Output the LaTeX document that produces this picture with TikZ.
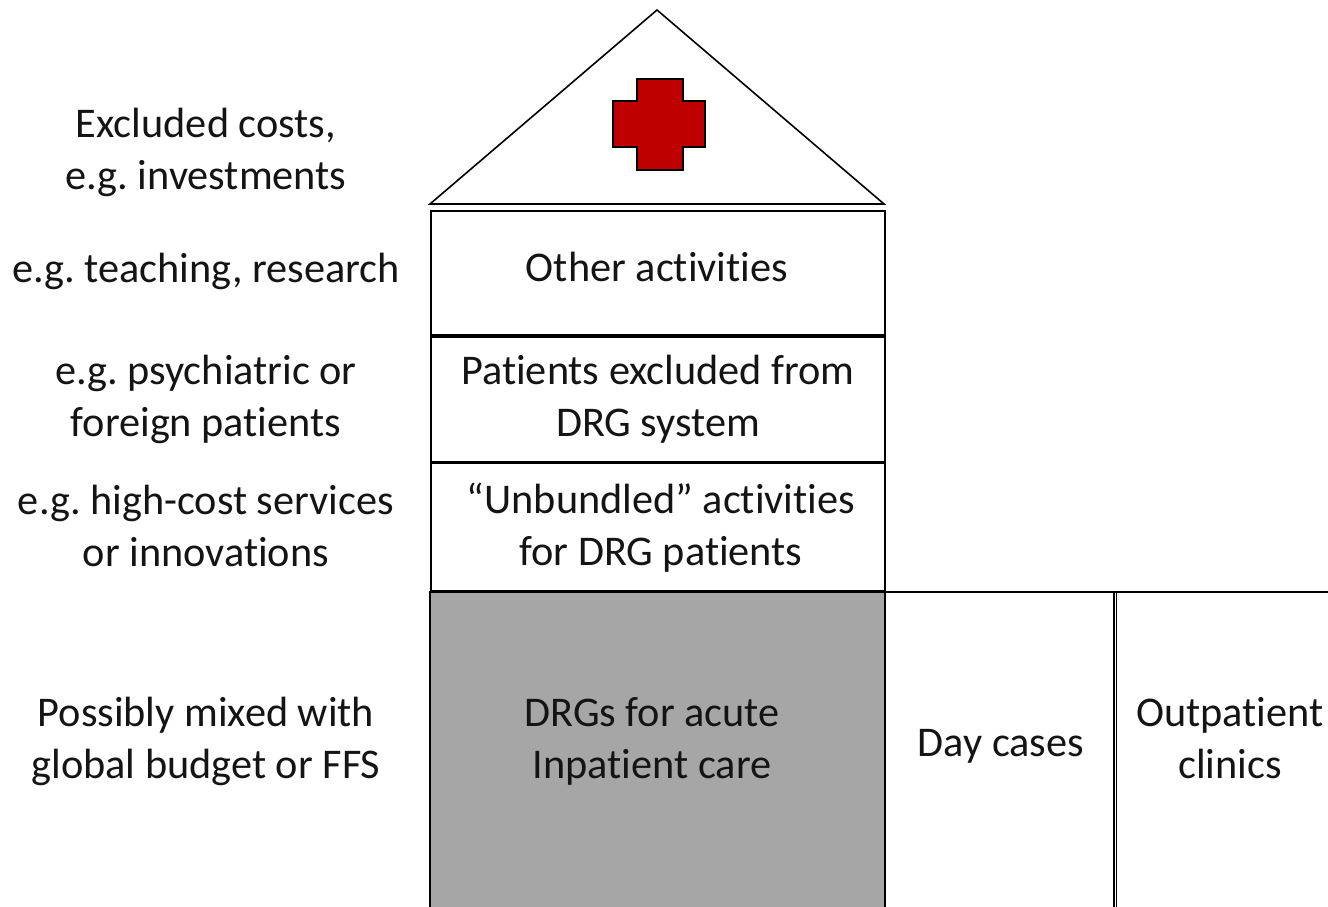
\documentclass[tikz,border=0pt]{standalone}
\usepackage{fontspec}
\setmainfont[Ligatures=NoCommon]{Carlito}
\definecolor{crossred}{HTML}{BF0000}
\definecolor{boxgray}{HTML}{A6A6A6}
\tikzset{
  every node/.style={font=\fontsize{42.3}{52}\selectfont\frenchspacing, align=center, inner sep=0pt, text=black!92},
  boxline/.style={draw=black, line width=1.6pt},
  roomnode/.style={boxline, minimum width=454pt, anchor=north west}
}
\begin{document}
\begin{tikzpicture}[x=1pt,y=-1pt]
\useasboundingbox (0,0) rectangle (1328,907);
\clip (0,0) rectangle (1328,907);
% roof
\coordinate (ridge) at (657,10);
\coordinate (eaveL) at (430,204);
\coordinate (eaveR) at (884,204);
\draw[boxline, line join=miter] (eaveL) -- (ridge) -- (eaveR) -- cycle;
% cross
\draw[line width=1.6pt, fill=crossred]
  (637,79) -- (683,79) -- (683,101) -- (705,101) -- (705,147) -- (683,147)
  -- (683,170) -- (637,170) -- (637,147) -- (613,147) -- (613,101) -- (637,101) -- cycle;
% storeys
\node[roomnode, minimum height=124pt] (other) at (430,210) {};
\node[roomnode, minimum height=125pt] (excl) at (430,336) {};
\node[roomnode, minimum height=128pt] (unb) at (430,462) {};
% ground floor
\draw[boxline, fill=boxgray] (430,930) -- (430,592) -- (885,592) -- (885,930);
\draw[boxline] (885,592) -- (1340,592);
\draw[boxline] (1114,592) -- (1114,930);
\draw[boxline] (1116.5,592) -- (1116.5,930);
\node (othert) at (657,267) {Other activities};
\node (exclt) at (658,399) {Patients excluded from\\DRG system};
\node (unbt) at (661,528) {“Unbundled” activities\\for DRG patients};
\node (drg) at (652,741) {DRGs for acute\\Inpatient care};
\node (day) at (1001,746) {Day cases};
\node (outp) at (1230,738) {Outpatient\\clinics};
% left labels
\node (l1) at (206,152) {Excluded costs,\\e.g. investments};
\node (l2) at (206,271) {e.g. teaching, research};
\node (l3) at (206,399) {e.g. psychiatric or\\foreign patients};
\node (l4) at (206,526) {e.g. high-cost services\\or innovations};
\node (l5) at (206,741) {Possibly mixed with\\global budget or FFS};
\end{tikzpicture}
\end{document}
